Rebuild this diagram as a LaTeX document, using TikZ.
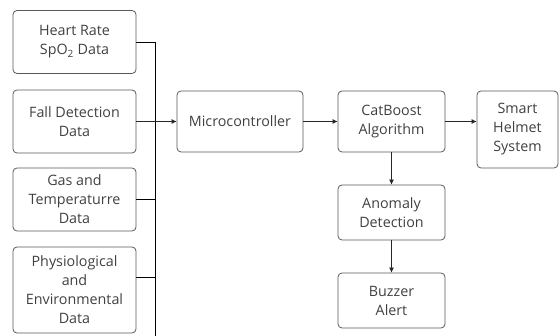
\documentclass[tikz,border=0pt]{standalone}
\usepackage{fontspec}
\setmainfont{Open Sans}
\usetikzlibrary{arrows.meta}

\begin{document}
\begin{tikzpicture}[x=1pt, y=-1pt, line width=0.8pt,
  box/.style={draw=black!65, rounded corners=4pt, align=center, text=black!75,
    font=\fontsize{14.3}{19}\selectfont, inner sep=1pt},
  link/.style={draw=black!85, -{Latex[length=5pt,width=5pt]}}]
\useasboundingbox (0,0) rectangle (559,336);

\node[box, minimum width=123, minimum height=63] (hr) at (74.5,42) {Heart Rate\\SpO\textsubscript{2} Data};
\node[box, minimum width=123, minimum height=63] (fall) at (74.5,121.5) {Fall Detection\\Data};
\node[box, minimum width=123, minimum height=63] (gas) at (74.5,199.5) {Gas and\\Temperaturre\\Data};
\node[box, minimum width=123, minimum height=86] (phys) at (74.5,290) {Physiological\\and\\Environmental\\Data};

\node[box, minimum width=126, minimum height=61] (mcu) at (240,121.5) {Microcontroller};
\node[box, minimum width=107, minimum height=61] (cat) at (391.5,121.5) {CatBoost\\Algorithm};
\node[box, minimum width=81, minimum height=77] (helmet) at (517.5,129.5) {Smart\\Helmet\\System};
\node[box, minimum width=107, minimum height=55] (anomaly) at (391.5,212.5) {Anomaly\\Detection};
\node[box, minimum width=107, minimum height=55] (buzzer) at (391.5,300.5) {Buzzer\\Alert};

\coordinate (bustop) at (155,42);
\coordinate (busend) at (155,336);
\coordinate (tap) at (155,277);

\draw (hr.east) -- (bustop) -- (busend);
\draw (gas.east) -- (gas.east -| bustop);
\draw (tap -| phys.east) -- (tap);

\draw[link] (fall.east) -- (mcu.west);
\draw[link] (mcu.east) -- (cat.west);
\draw[link] (cat.east) -- (cat.east -| helmet.west);
\draw[link] (cat.south) -- (anomaly.north);
\draw[link] (anomaly.south) -- (buzzer.north);
\end{tikzpicture}
\end{document}
